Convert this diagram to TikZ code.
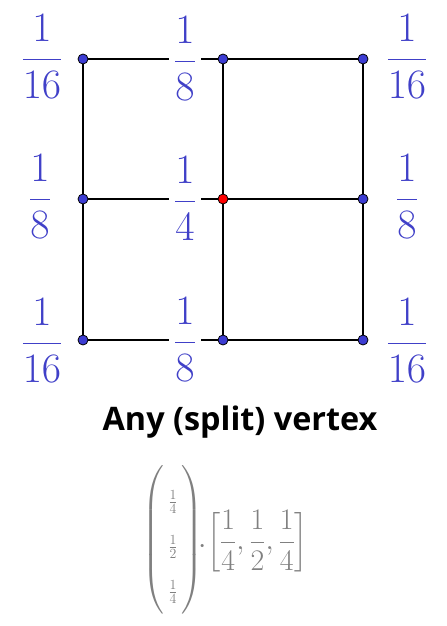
\RequirePackage{fix-cm}
\documentclass[tikz,border=0pt]{standalone}
\usepackage{amsmath}
\usepackage{fontspec}
\newfontfamily\titlefont{Open Sans}
\definecolor{fracblue}{RGB}{64,64,200}
\definecolor{dotblue}{RGB}{60,60,210}
\definecolor{mgray}{RGB}{128,128,128}
\newcommand{\fr}[2]{$\displaystyle\frac{#1}{#2}$}
\tikzset{
  edge/.style={line width=2.3bp, black},
  lab/.style={text=fracblue, font=\fontsize{42}{50}\selectfont, inner sep=0pt},
  gaplab/.style={lab, fill=white, inner xsep=5bp},
  vdot/.style={circle, draw=black, line width=0.8bp, fill=dotblue, minimum size=10bp, inner sep=0pt},
  rdot/.style={vdot, fill=red},
  formtext/.style={text=mgray, font=\fontsize{30}{36}\selectfont, inner sep=0pt},
  smallfrac/.style={text=mgray, font=\fontsize{20}{24}\selectfont, inner sep=0pt}
}
\begin{document}
\begin{tikzpicture}[x=1bp,y=-1bp]
\useasboundingbox (0,0) rectangle (447,626);
% vertices
\coordinate (a1) at (83,59);
\coordinate (a2) at (223,59);
\coordinate (a3) at (363,59);
\coordinate (b1) at (83,199);
\coordinate (b2) at (223,199);
\coordinate (b3) at (363,199);
\coordinate (c1) at (83,340);
\coordinate (c2) at (223,340);
\coordinate (c3) at (363,340);
% edges
\draw[edge] (a1) -- (a2) -- (a3) -- (b3) -- (c3) -- (c2) -- (c1) -- (b1) -- (a1);
\draw[edge] (b1) -- (b2) -- (b3);
\draw[edge] (a2) -- (b2) -- (c2);
% labels
\node[lab] (l11) at (42,57) {\fr{1}{16}};
\node[gaplab] (l12) at (185,59) {\fr{1}{8}};
\node[lab] (l13) at (407,57) {\fr{1}{16}};
\node[lab] (l21) at (40,197) {\fr{1}{8}};
\node[gaplab] (l22) at (185,199) {\fr{1}{4}};
\node[lab] (l23) at (407,197) {\fr{1}{8}};
\node[lab] (l31) at (42,341) {\fr{1}{16}};
\node[gaplab] (l32) at (185,340) {\fr{1}{8}};
\node[lab] (l33) at (407,341) {\fr{1}{16}};
% dots
\foreach \p in {a1,a2,a3,b1,b3,c1,c2,c3} \node[vdot] (d\p) at (\p) {};
\node[rdot] (db2) at (b2) {};
% title
\node[font=\titlefont\bfseries\fontsize{32.5}{38}\selectfont, anchor=base] (title) at (240,430) {Any (split) vertex};
% formula: column vector
\node[formtext] (cparen) at (172.5,540)
  {$\left(\vcenter{\hbox to 17bp{\vrule height 70bp depth 70bp width 0pt\hfil}}\right)$};
\node[smallfrac] (c1f) at (173,502) {$\frac{1}{4}$};
\node[smallfrac] (c2f) at (173,547) {$\frac{1}{2}$};
\node[smallfrac] (c3f) at (173,592) {$\frac{1}{4}$};
\node[formtext] (cdotn) at (203,547) {$\cdot$};
% formula: row vector
\node[formtext, anchor=west] (rowv) at (207,541)
  {$\left[\dfrac{1}{4},\dfrac{1}{2},\dfrac{1}{4}\right]$};
\end{tikzpicture}
\end{document}
